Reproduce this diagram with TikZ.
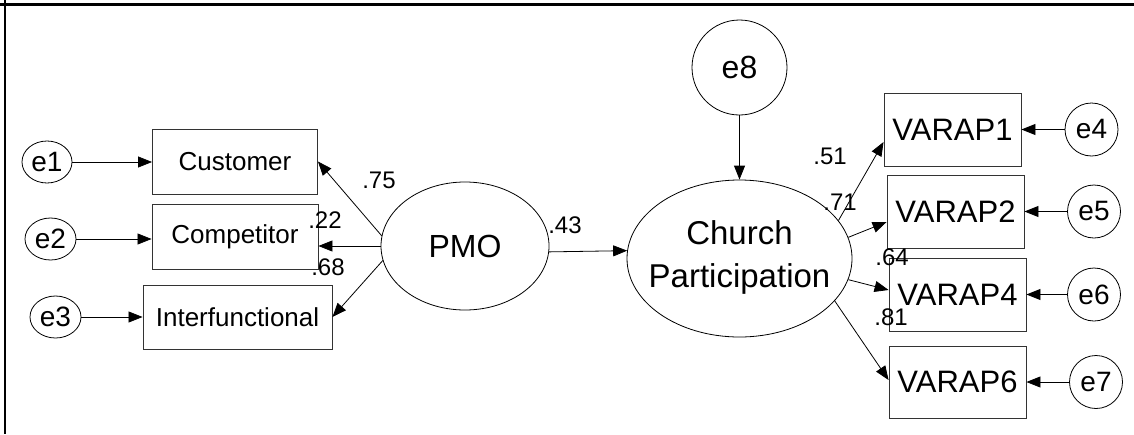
\documentclass[tikz,border=0pt]{standalone}
\usepackage{fontspec}
\setmainfont{Liberation Sans}
\usetikzlibrary{arrows.meta,shapes.geometric,calc}

\newcommand{\fs}[1]{\fontsize{#1}{#1}\selectfont}

\begin{document}
\begin{tikzpicture}[x=1pt,y=-1pt,
  box/.style={draw=black!80,line width=0.9pt,rectangle,inner sep=0pt},
  lat/.style={draw,line width=0.8pt,ellipse,inner sep=0pt},
  err/.style={draw,line width=0.8pt,ellipse,inner sep=0pt,font=\fs{28}},
  coef/.style={inner sep=0pt,font=\fs{24}},
  arr/.style={line width=0.8pt,-{Triangle[length=14pt,width=11pt]}}]
\useasboundingbox (0,0) rectangle (1134,434);

% frame edges
\draw[line width=3pt] (0,4.5) -- (1134,4.5);
\draw[line width=2.6pt] (5,0) -- (5,434);

% indicators of PMO
\node[box,minimum width=165pt,minimum height=65pt,font=\fs{26}] (cust) at (235,161.5) {Customer};
\node[box,minimum width=166pt,minimum height=65pt,font=\fs{26}] (comp) at (235,236.5) {Competitor};
\node[box,minimum width=189pt,minimum height=64pt,font=\fs{26}] (intf) at (237.5,317) {Interfunctional};

% error terms, left
\node[err,minimum width=50pt,minimum height=42pt] (e1) at (47,162) {e1};
\node[err,minimum width=51pt,minimum height=42pt] (e2) at (50.5,239) {e2};
\node[err,minimum width=51pt,minimum height=42pt] (e3) at (55.5,317) {e3};

% latent variables
\node[lat,minimum width=168pt,minimum height=128pt,font=\fs{32}] (PMO) at (465,246) {PMO};
\node[lat,minimum width=225pt,minimum height=157pt] (CP) at (739.5,258.5) {};
\node[align=center,inner sep=0pt,font=\fontsize{33}{43}\selectfont] (CPtext) at (739.5,257) {Church\\Participation};
\node[err,circle,minimum size=95pt,font=\fs{32}] (e8) at (739.5,67.5) {e8};

% indicators of Church Participation
\node[box,minimum width=137pt,minimum height=73pt,font=\fs{31}] (v1) at (952.5,129.5) {VARAP1};
\node[box,minimum width=137pt,minimum height=73pt,font=\fs{31}] (v2) at (955.5,211.5) {VARAP2};
\node[box,minimum width=137pt,minimum height=73pt,font=\fs{31}] (v4) at (957.5,294.5) {VARAP4};
\node[box,minimum width=137pt,minimum height=72pt,font=\fs{31}] (v6) at (957.5,382) {VARAP6};

% error terms, right
\node[err,circle,minimum size=53pt] (e4) at (1091.5,129.5) {e4};
\node[err,circle,minimum size=53pt] (e5) at (1094,211.5) {e5};
\node[err,circle,minimum size=53pt] (e6) at (1094,294.5) {e6};
\node[err,circle,minimum size=53pt] (e7) at (1096,382) {e7};

% paths
\draw[arr] (e1.east) -- (e1.east -| cust.west);
\draw[arr] (e2.east) -- (e2.east -| comp.west);
\draw[arr] (e3.east) -- (e3.east -| intf.west);

\draw[arr] (PMO.173) -- (cust.east);
\draw[arr] (PMO.west) -- (PMO.west -| comp.east);
\draw[arr] (PMO.190) -- (intf.east);

\draw[arr] (PMO.-4) -- (CP.176);
\draw[arr] (e8.south) -- (CP.north);

\draw[arr] (CP.21) -- ($(v1.west)+(0,12.5)$);
\draw[arr] (CP.11) -- ($(v2.west)+(0,10.5)$);
\draw[arr] (CP.-11) -- ($(v4.west)+(0,-4.5)$);
\draw[arr] (CP.-24.5) -- ($(v6.west)+(0,-2)$);

\draw[arr] (e4.west) -- (e4.west -| v1.east);
\draw[arr] (e5.west) -- (e5.west -| v2.east);
\draw[arr] (e6.west) -- (e6.west -| v4.east);
\draw[arr] (e7.west) -- (e7.west -| v6.east);

% path coefficients
\node[coef] (c75) at (379,180) {.75};
\node[coef] (c22) at (325,220) {.22};
\node[coef] (c68) at (328,267) {.68};
\node[coef] (c43) at (565,225) {.43};
\node[coef] (c51) at (830,156) {.51};
\node[coef] (c71) at (840,202) {.71};
\node[coef] (c64) at (892,257) {.64};
\node[coef] (c81) at (891,317) {.81};
\end{tikzpicture}
\end{document}
